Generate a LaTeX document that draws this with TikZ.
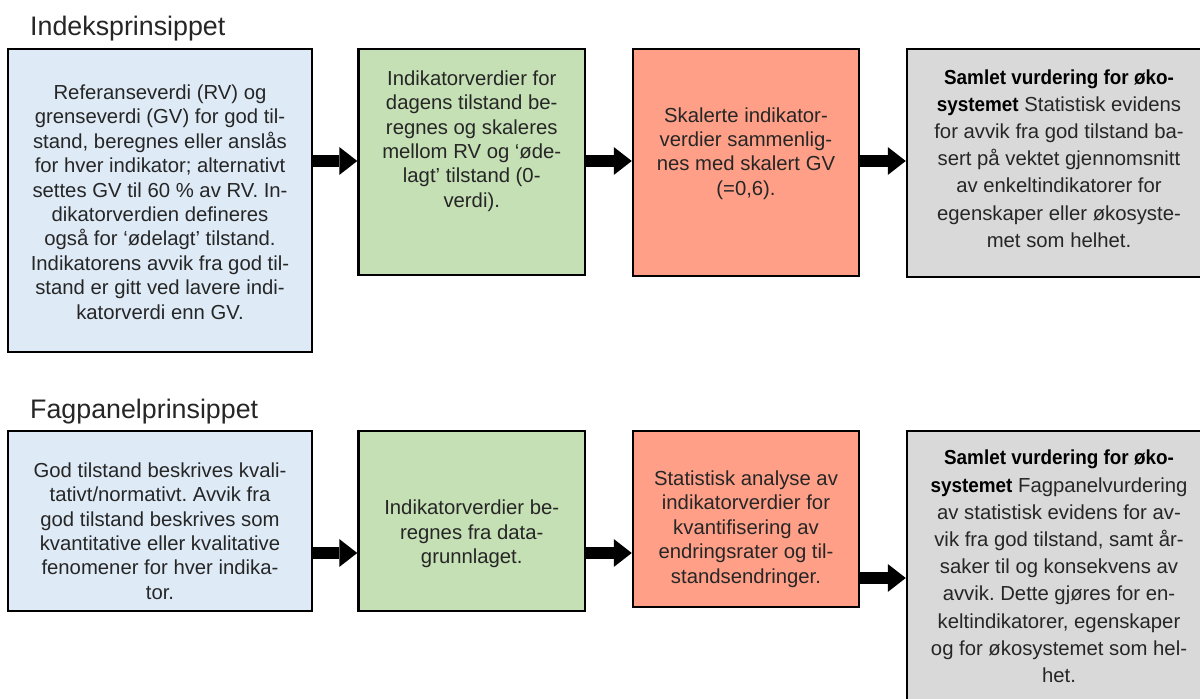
\documentclass[tikz,border=0pt]{standalone}
\usepackage{fontspec}
\setmainfont{Liberation Sans}
\newfontfamily\bnar[FakeStretch=0.93]{Liberation Sans}
\usetikzlibrary{arrows.meta}
\definecolor{bfill}{HTML}{DEEBF7}
\definecolor{gfill}{HTML}{C5E0B4}
\definecolor{rfill}{HTML}{FF9F87}
\definecolor{kfill}{HTML}{D9D9D9}
\definecolor{txt}{HTML}{262626}
\frenchspacing
\begin{document}
\begin{tikzpicture}[x=1pt,y=-1pt,
  box/.style={draw=black, line width=2.5pt, inner sep=0pt, rectangle},
  body/.style={text=txt, align=center, inner sep=0pt, font=\frenchspacing\fontsize{20.3}{24.4}\selectfont},
  bodyk/.style={text=txt, align=center, inner sep=0pt, font=\frenchspacing\fontsize{20.3}{27.2}\selectfont},
  title/.style={text=txt, anchor=base west, inner sep=0pt, font=\fontsize{26.8}{30}\selectfont},
  conn/.style={line width=12pt, -{Triangle[length=18pt,width=28pt,line width=0pt]}}]
\clip (0,0) rectangle (1200,699);
\fill[white] (0,0) rectangle (1200,699);
\newcommand\bhead[1]{{\color{black}\bnar\bfseries #1}}
% titles
\node[title] (h1) at (30,35) {Indeksprinsippet};
\node[title] (h2) at (30,418) {Fagpanelprinsippet};
% top row boxes
\node[box, fill=bfill, minimum width=304pt, minimum height=303pt] (a1) at (160,200.5) {};
\node[box, fill=gfill, minimum width=226.5pt, minimum height=226pt] (a2) at (471.75,162) {};
\node[box, fill=rfill, minimum width=226pt, minimum height=227pt] (a3) at (746,162.5) {};
\node[box, fill=kfill, minimum width=304pt, minimum height=228pt] (a4) at (1059,163) {};
% bottom row boxes
\node[box, fill=bfill, minimum width=304pt, minimum height=180pt] (c1) at (160,521) {};
\node[box, fill=gfill, minimum width=226.5pt, minimum height=180pt] (c2) at (471.75,521) {};
\node[box, fill=rfill, minimum width=226pt, minimum height=176pt] (c3) at (746,519) {};
\node[box, fill=kfill, minimum width=304pt, minimum height=278pt] (c4) at (1059,570) {};
% top texts
\node[body] (ta1) at (160,202) {Referanseverdi (RV) og\\grenseverdi (GV) for god til-\\stand, beregnes eller anslås\\for hver indikator; alternativt\\settes GV til 60 \% av RV. In-\\dikatorverdien defineres\\også for ‘ødelagt’ tilstand.\\Indikatorens avvik fra god til-\\stand er gitt ved lavere indi-\\katorverdi enn GV.};
\node[body] (ta2) at (471.75,141) {Indikatorverdier for\\dagens tilstand be-\\regnes og skaleres\\mellom RV og ‘øde-\\lagt’ tilstand (0-\\verdi).};
\node[body] (ta3) at (746,153.5) {Skalerte indikator-\\verdier sammenlig-\\nes med skalert GV\\(=0,6).};
\node[bodyk] (ta4) at (1059,158.5) {\bhead{Samlet vurdering for øko-}\\\bhead{systemet} Statistisk evidens\\for avvik fra god tilstand ba-\\sert på vektet gjennomsnitt\\av enkeltindikatorer for\\egenskaper eller økosyste-\\met som helhet.};
% bottom texts
\node[body] (tc1) at (160,531) {God tilstand beskrives kvali-\\tativt/normativt. Avvik fra\\god tilstand beskrives som\\kvantitative eller kvalitative\\fenomener for hver indika-\\tor.};
\node[body] (tc2) at (471.75,534) {Indikatorverdier be-\\regnes fra data-\\grunnlaget.};
\node[body] (tc3) at (746,529) {Statistisk analyse av\\indikatorverdier for\\kvantifisering av\\endringsrater og til-\\standsendringer.};
\node[bodyk] (tc4) at (1059,566.5) {\bhead{Samlet vurdering for øko-}\\\bhead{systemet} Fagpanelvurdering\\av statistisk evidens for av-\\vik fra god tilstand, samt år-\\saker til og konsekvens av\\avvik. Dette gjøres for en-\\keltindikatorer, egenskaper\\og for økosystemet som hel-\\het.};
% connectors
\draw[conn] (a1.east |- 0,161) -- (a2.west |- 0,161);
\draw[conn] (a2.east |- 0,161) -- (a3.west |- 0,161);
\draw[conn] (a3.east |- 0,161) -- (a4.west |- 0,161);
\draw[conn] (c1.east |- 0,553) -- (c2.west |- 0,553);
\draw[conn] (c2.east |- 0,553) -- (c3.west |- 0,553);
\draw[conn] (c3.east |- 0,578) -- (c4.west |- 0,578);
\end{tikzpicture}
\end{document}
